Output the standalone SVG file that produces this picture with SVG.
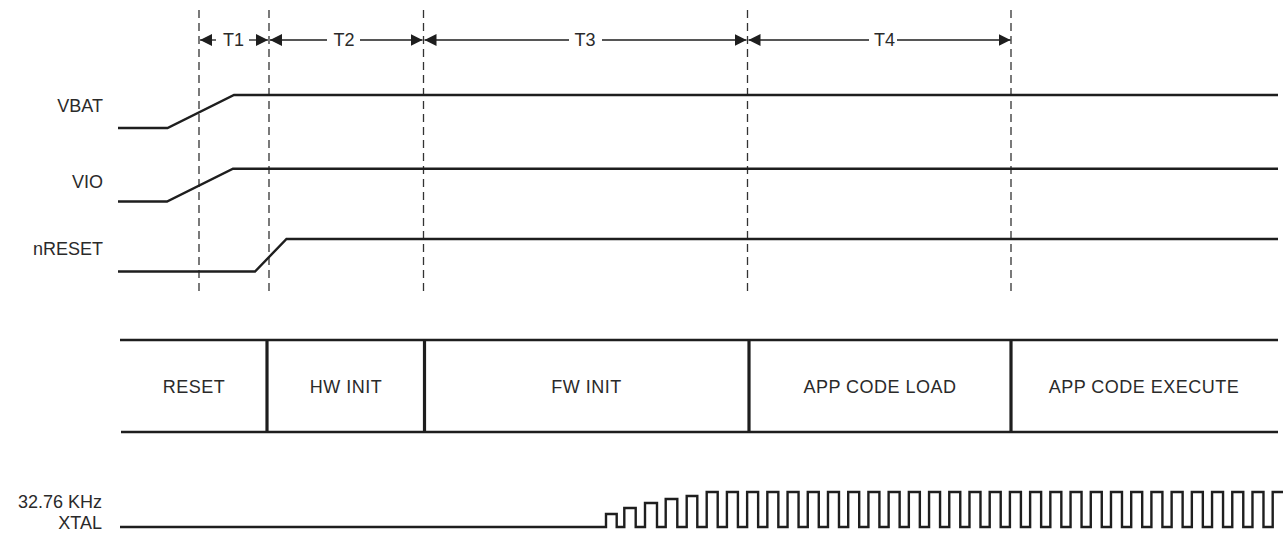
<svg xmlns="http://www.w3.org/2000/svg" width="1286" height="535" viewBox="0 0 1286 535">
<style>
text{font-family:"Liberation Sans",Arial,sans-serif;font-size:18px;fill:#2a2a2a}
.lbl{text-anchor:end}
.mid{text-anchor:middle}
.ph{letter-spacing:0.5px}
.sig{fill:none;stroke:#1e1e1e;stroke-width:2.4;stroke-linejoin:miter}
.band{fill:none;stroke:#1e1e1e;stroke-width:2.6}
.div{stroke:#1e1e1e;stroke-width:3.2}
.dash{stroke:#333;stroke-width:1.3;stroke-dasharray:8 5}
.dim{stroke:#1e1e1e;stroke-width:1.3;marker-end:url(#ah)}
</style>
<defs>
<marker id="ah" markerUnits="userSpaceOnUse" markerWidth="13" markerHeight="13" refX="12" refY="6" orient="auto"><path d="M0,0 L12,6 L0,12 z" fill="#1e1e1e"/></marker>
</defs>
<rect width="1286" height="535" fill="#fff"/>
<g id="guides">
<line class="dash" x1="199" y1="10" x2="199" y2="296"/>
<line class="dash" x1="269" y1="10" x2="269" y2="296"/>
<line class="dash" x1="423.5" y1="10" x2="423.5" y2="296"/>
<line class="dash" x1="747.5" y1="10" x2="747.5" y2="296"/>
<line class="dash" x1="1011" y1="10" x2="1011" y2="296"/>
</g>
<g id="connectors">
<line class="dim" x1="216" y1="40" x2="200" y2="40"/>
<line class="dim" x1="249" y1="40" x2="268" y2="40"/>
<line class="dim" x1="327" y1="40" x2="270" y2="40"/>
<line class="dim" x1="360" y1="40" x2="422.5" y2="40"/>
<line class="dim" x1="569" y1="40" x2="424.5" y2="40"/>
<line class="dim" x1="602" y1="40" x2="746.5" y2="40"/>
<line class="dim" x1="869" y1="40" x2="748.5" y2="40"/>
<line class="dim" x1="897" y1="40" x2="1010.5" y2="40"/>
</g>
<g id="interval-labels">
<text class="mid" x="233.5" y="46">T1</text>
<text class="mid" x="344" y="46">T2</text>
<text class="mid" x="585" y="46">T3</text>
<text class="mid" x="884.5" y="46">T4</text>
</g>
<g id="vbat">
<text class="lbl" x="103" y="112">VBAT</text>
<path class="sig" d="M118,128 H167.5 L234,95 H1278"/>
</g>
<g id="vio">
<text class="lbl" x="103" y="188">VIO</text>
<path class="sig" d="M118,201.5 H167 L233,168.7 H1278"/>
</g>
<g id="nreset">
<text class="lbl" x="103" y="255">nRESET</text>
<path class="sig" d="M118,271.5 H255 L286.5,239 H1278"/>
</g>
<g id="phases">
<line class="band" x1="120" y1="340" x2="1278" y2="340"/>
<line class="band" x1="121" y1="432" x2="1278" y2="432"/>
<line class="div" x1="267" y1="339" x2="267" y2="433"/>
<line class="div" x1="424.5" y1="339" x2="424.5" y2="433"/>
<line class="div" x1="749" y1="339" x2="749" y2="433"/>
<line class="div" x1="1011" y1="339" x2="1011" y2="433"/>
<g id="phase-reset"><text class="mid ph" x="194" y="393">RESET</text></g>
<g id="phase-hwinit"><text class="mid ph" x="346" y="393">HW INIT</text></g>
<g id="phase-fwinit"><text class="mid ph" x="586.5" y="393">FW INIT</text></g>
<g id="phase-appload"><text class="mid ph" x="880" y="393">APP CODE LOAD</text></g>
<g id="phase-appexec"><text class="mid ph" x="1144" y="393">APP CODE EXECUTE</text></g>
</g>
<g id="xtal">
<text class="lbl" x="102" y="508">32.76 KHz</text>
<text class="lbl" x="102" y="529">XTAL</text>
<path class="sig" d="M120,527 H606 V514 H616.7 V527 H624.3 V508 H635.7 V527 H645 V503 H657 V527 H665.7 V499 H677.3 V527 H686.7 V496 H697.3 V527 H706.7 V492h11V527h9.214V492h11V527h9.214V492h11V527h9.214V492h11V527h9.214V492h11V527h9.214V492h11V527h9.214V492h11V527h9.214V492h11V527h9.214V492h11V527h9.214V492h11V527h9.214V492h11V527h9.214V492h11V527h9.214V492h11V527h9.214V492h11V527h9.214V492h11V527h9.214V492h11V527h9.214V492h11V527h9.214V492h11V527h9.214V492h11V527h9.214V492h11V527h9.214V492h11V527h9.214V492h11V527h9.214V492h11V527h9.214V492h11V527h9.214V492h11V527h9.214V492h11V527h9.214V492h11V527h9.214V492h11V527h9.214V492H1283"/>
</g>
</svg>
